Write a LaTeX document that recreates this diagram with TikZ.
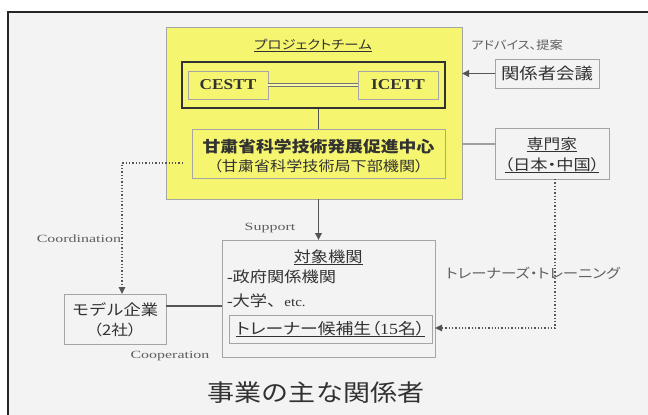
\documentclass[tikz,border=0pt]{standalone}
\usepackage{fontspec}
\setmainfont[FakeStretch=1.15]{Liberation Serif}
\newfontfamily\jp[FakeStretch=1.15]{Noto Sans CJK JP}
\newfontfamily\jpp[FakeStretch=1.15,RawFeature={+palt}]{Noto Sans CJK JP}
\newfontfamily\lab[FakeStretch=1.45]{Liberation Serif}
\newcommand\fsz[2]{\fontsize{#1}{#2}\selectfont}
\newcommand\uline[1]{\setbox0\hbox{#1}\rlap{\rule[-2.2pt]{\wd0}{0.7pt}}\box0}
\usetikzlibrary{arrows.meta}
\definecolor{bg}{RGB}{243,243,243}
\definecolor{yel}{RGB}{245,245,112}
\definecolor{ink}{RGB}{50,50,50}
\definecolor{boxline}{RGB}{165,165,165}
\definecolor{conn}{RGB}{85,85,85}
\definecolor{labc}{RGB}{95,95,95}
\begin{document}
\begin{tikzpicture}[x=1pt,y=-1pt,
  box/.style={draw=boxline,line width=0.6pt,inner sep=0pt,outer sep=0pt},
  txt/.style={inner sep=0pt,outer sep=0pt,text=ink},
  labtxt/.style={inner sep=0pt,outer sep=0pt,text=labc,font=\lab\fsz{11}{13}},
  conn/.style={draw=conn,line width=1.8pt},
  arr/.style={conn,-{Triangle[length=7pt,width=6.5pt]}},
  dots/.style={draw=conn,line width=1.3pt,dotted},
  dotarr/.style={dots,-{Triangle[length=7pt,width=6.5pt]}}]
\useasboundingbox (0,0) rectangle (648,415);
\fill[white] (0,0) rectangle (648,415);
\fill[bg] (8,12) rectangle (648,415);
\draw[line width=2pt,black!85] (8,415) -- (8,12) -- (648,12);

% project team (yellow)
\node[box,fill=yel,minimum width=296pt,minimum height=172pt] (yb) at (314,113) {};
\node[txt] (ptitle) at (313,45) {\jpp\fsz{12.5}{14}\uline{プロジェクトチーム}};
\node[draw=ink,line width=2pt,inner sep=0pt,minimum width=263pt,minimum height=46pt] (teambox) at (313.5,85) {};
\node[box,minimum width=80pt,minimum height=28pt,font=\bfseries\fsz{15}{17},text=ink] (cestt) at (228,85) {CESTT};
\node[box,minimum width=80pt,minimum height=28pt,font=\bfseries\fsz{15}{17},text=ink] (icett) at (398,85) {ICETT};
\draw[draw=black!55,line width=0.9pt,double=yel!60!white,double distance=1.4pt] (cestt.east) -- (icett.west);
\node[box,minimum width=253pt,minimum height=49pt] (center) at (318.5,153.5) {};
\node[txt] (c1) at (318.5,147) {\jp\bfseries\fsz{15.5}{18}甘粛省科学技術発展促進中心};
\node[txt] (c2) at (318.5,166) {\jpp\fsz{14}{15}（甘粛省科学技術局下部機関）};
\draw[conn] (center.north |- teambox.south) -- (center.north);

% right side
\node[txt,text=labc] (advice) at (517,45) {\jpp\fsz{11.5}{13}アドバイス、提案};
\node[box,minimum width=104pt,minimum height=29pt] (kaigi) at (547,73.5) {};
\node[txt] (kaigit) at (kaigi) {\jp\fsz{16}{18}関係者会議};
\draw[arr] (kaigi.west) -- (kaigi.west -| yb.east);
\node[box,minimum width=114pt,minimum height=51pt] (senmon) at (552,153.5) {};
\node[txt] (s1t) at (552,145) {\jp\fsz{14.5}{17}\uline{専門家}};
\node[txt] (s2t) at (552,165) {\jpp\fsz{15}{17}\uline{（日本・中国）}};
\coordinate (sy) at (0,144);
\draw[conn,draw=gray!75] (senmon.west |- sy) -- (yb.east |- sy);

% target organisations
\node[box,minimum width=213pt,minimum height=117pt] (target) at (328.5,298.5) {};
\node[txt] (tt) at (328,257) {\jp\fsz{15}{17}\uline{対象機関}};
\node[txt,anchor=west] (tl1) at (227,277) {\fsz{15}{17}-\jp 政府関係機関};
\node[txt,anchor=west] (tl2) at (227,301) {\fsz{15}{17}-\jp 大学、\rmfamily\fsz{13}{15}etc.};
\node[box,minimum width=203pt,minimum height=28pt] (trainee) at (330.5,329) {};
\node[txt] (traineet) at (trainee) {\jpp\fsz{15.5}{17}\uline{トレーナー候補生（\rmfamily 15\jpp 名）}};
\draw[arr] (center.south |- yb.south) -- (center.south |- target.north);
\node[labtxt] (support) at (270,228) {Support};

% model companies
\node[box,minimum width=102pt,minimum height=50pt] (model) at (115,319) {};
\node[txt] (m1t) at (115,310) {\jp\fsz{15}{17}モデル企業};
\node[txt] (m2t) at (115,330) {\jpp\fsz{14.5}{16}（2社）};
\coordinate (my) at (0,306);
\draw[conn] (model.east |- my) -- (target.west |- my);
\node[labtxt] (coop) at (170,356) {Cooperation};

% coordination dotted
\coordinate (d0) at (183,163);
\coordinate (d1) at (122,163);
\draw[dotarr] (d0) -- (d1) -- (d1 |- model.north);
\node[labtxt,anchor=east] (coord) at (121,239) {Coordination};

% trainers training dotted
\coordinate (t1) at (555,328);
\draw[dotarr] (t1 |- senmon.south) -- (t1) -- (target.east |- t1);
\node[txt,text=labc] (trlab) at (533,273) {\jpp\fsz{13.4}{15}トレーナーズ・トレーニング};

% title
\node[txt,text=ink] (title) at (316,393) {\jp\fsz{23.5}{27}事業の主な関係者};
\end{tikzpicture}
\end{document}
